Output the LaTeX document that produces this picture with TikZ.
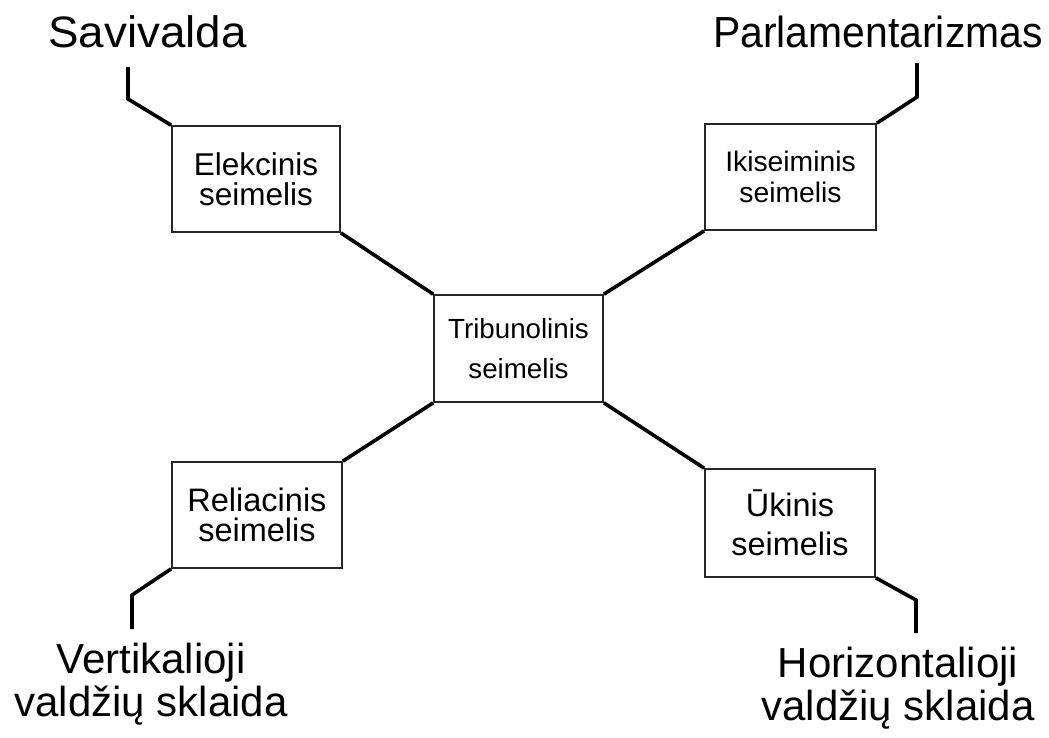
\documentclass[tikz,border=0pt]{standalone}
\usepackage{fontspec}
\setmainfont{Liberation Sans}
\begin{document}
\begin{tikzpicture}[x=1pt,y=-1pt,
  box/.style={draw=black!85, line width=1.7pt, inner sep=0pt, align=center},
  conn/.style={line width=3.6pt, line cap=butt, line join=miter},
  lbl/.style={inner sep=0pt, anchor=base, align=center}]
\useasboundingbox (0,0) rectangle (1049,737);
% boxes
\node[box, minimum width=168pt, minimum height=106pt, font=\fontsize{31.5}{30}\selectfont] (elek) at (256,179) {Elekcinis\\seimelis};
\node[box, minimum width=171pt, minimum height=106pt, font=\fontsize{28.3}{31}\selectfont] (ikis) at (790.5,177) {Ikiseiminis\\seimelis};
\node[box, minimum width=169pt, minimum height=107pt, font=\fontsize{27.7}{40}\selectfont] (trib) at (518.5,348.5) {Tribunolinis\\seimelis};
\node[box, minimum width=170pt, minimum height=106pt, font=\fontsize{32.5}{30}\selectfont] (reli) at (257,515) {Reliacinis\\seimelis};
\node[box, minimum width=170pt, minimum height=108pt, font=\fontsize{32.4}{39}\selectfont] (ukin) at (790,523) {Ūkinis\\seimelis};
% labels
\node[lbl, font=\fontsize{44}{44}\selectfont, xscale=1.04] (sav) at (147.5,47) {Savivalda};
\node[lbl, font=\fontsize{43.5}{43.5}\selectfont, xscale=0.94] (par) at (878,47) {Parlamentarizmas};
\node[lbl, font=\fontsize{42}{43}\selectfont] (ver) at (151,716) {Vertikalioji\\valdžių sklaida};
\node[lbl, font=\fontsize{42}{43}\selectfont] (hor) at (898,720) {Horizontalioji\\valdžių sklaida};
% connector bends
\coordinate (savA) at (128,99);  \coordinate (savB) at (128,67);
\coordinate (parA) at (917,97);  \coordinate (parB) at (917,63);
\coordinate (verA) at (132,595); \coordinate (verB) at (132,629);
\coordinate (horA) at (916,600); \coordinate (horB) at (916,633);
% connectors
\draw[conn] (elek.north west) -- (savA) -- (savB);
\draw[conn] (ikis.north east) -- (parA) -- (parB);
\draw[conn] (reli.south west) -- (verA) -- (verB);
\draw[conn] (ukin.south east) -- (horA) -- (horB);
\draw[conn] (trib.north west) -- (elek.south east);
\draw[conn] (trib.north east) -- (ikis.south west);
\draw[conn] (trib.south west) -- (reli.north east);
\draw[conn] (trib.south east) -- (ukin.north west);
\end{tikzpicture}
\end{document}
